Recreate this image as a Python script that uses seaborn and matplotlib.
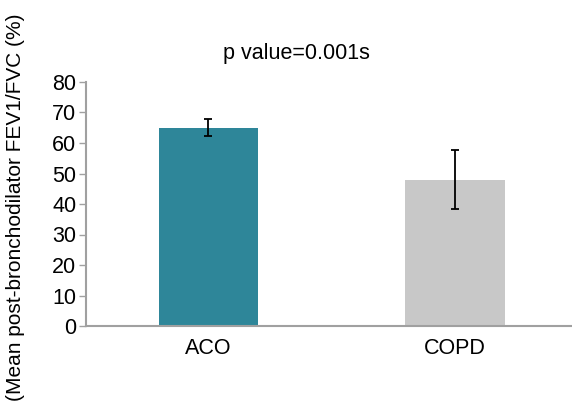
import matplotlib
matplotlib.use("Agg")
import matplotlib.pyplot as plt
import seaborn as sns
import pandas as pd

# Group means and error half-widths
groups = ["ACO", "COPD"]
means = [65, 48]
errors = [2.8, 9.6]
colors = ["#2E8699", "#C8C8C8"]
yticks = [0, 10, 20, 30, 40, 50, 60, 70, 80]

sns.set_theme(style="white")
plt.rcParams["font.family"] = ["Liberation Sans", "DejaVu Sans"]
plt.rcParams["text.color"] = "black"
plt.rcParams["xtick.color"] = "black"
plt.rcParams["ytick.color"] = "black"

FS = 15.5

df = pd.DataFrame({"group": groups, "mean": means})

W, H = 572, 407
fig = plt.figure(figsize=(W / 100, H / 100), dpi=100)
ax = fig.add_axes([86 / W, (H - 326) / H, (572 - 86) / W, (326 - 82) / H])

sns.barplot(data=df, x="group", y="mean", hue="group", palette=colors,
            width=0.405, errorbar=None, legend=False, ax=ax, saturation=1,
            linewidth=0)
ax.errorbar(range(len(groups)), means, yerr=errors, fmt="none",
            ecolor="black", elinewidth=1.3, capsize=3, capthick=1.3)

ax.set_xlim(-0.497, 1.475)
ax.set_ylim(0, 80)
ax.set_yticks(yticks)
ax.set_yticklabels([str(t) for t in yticks], fontsize=FS)
ax.tick_params(axis="x", labelsize=FS, length=0, pad=9, labelcolor="black")
ax.tick_params(axis="y", length=5, width=1, color="#A0A0A0", pad=2, left=True,
               labelcolor="black")
for side in ["top", "right"]:
    ax.spines[side].set_visible(False)
for side in ["left", "bottom"]:
    ax.spines[side].set_color("#A0A0A0")
    ax.spines[side].set_linewidth(1.5)
ax.set_xlabel("")
ax.set_ylabel("")

fig.text(296 / W, 1 - 54 / H, "p value=0.001s", ha="center", va="center",
         fontsize=FS, color="black")
fig.text(16 / W, 1 - 207 / H, "(Mean post-bronchodilator FEV1/FVC (%)",
         rotation=90, ha="center", va="center", fontsize=15, color="black")

fig.savefig("out.png", dpi=100, facecolor="white")
